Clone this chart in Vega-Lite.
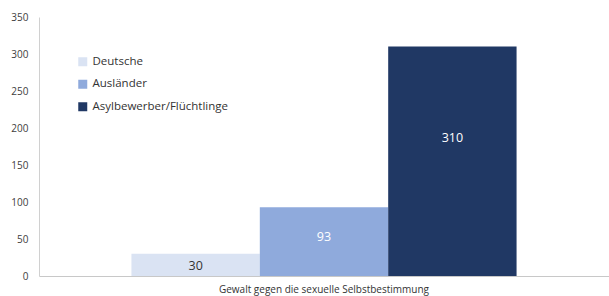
{
  "$schema": "https://vega.github.io/schema/vega-lite/v6.json",
  "width": 570,
  "height": 259,
  "autosize": {"type": "none"},
  "padding": {"left": 39, "top": 17, "right": 0, "bottom": 20},
  "background": "white",
  "config": {
    "view": {"stroke": null},
    "font": "Open Sans"
  },
  "data": {
    "values": [
      {"kategorie": "Gewalt gegen die sexuelle Selbstbestimmung", "gruppe": "Deutsche", "wert": 30},
      {"kategorie": "Gewalt gegen die sexuelle Selbstbestimmung", "gruppe": "Ausländer", "wert": 93},
      {"kategorie": "Gewalt gegen die sexuelle Selbstbestimmung", "gruppe": "Asylbewerber/Flüchtlinge", "wert": 310}
    ]
  },
  "encoding": {
    "x": {
      "field": "kategorie", "type": "nominal",
      "scale": {"paddingInner": 0, "paddingOuter": 0.24},
      "axis": {
        "title": null, "labelAngle": 0, "ticks": false, "labelPadding": 8,
        "labelFontSize": 10, "labelColor": "#333333", "domainColor": "#c8c8c8",
        "labelFont": "Open Sans", "labelLimit": 0
      }
    },
    "xOffset": {
      "field": "gruppe", "type": "nominal",
      "scale": {"domain": ["Deutsche", "Ausländer", "Asylbewerber/Flüchtlinge"], "paddingInner": 0, "paddingOuter": 0}
    }
  },
  "layer": [
    {
      "mark": {"type": "bar"},
      "encoding": {
        "y": {
          "field": "wert", "type": "quantitative",
          "scale": {"domain": [0, 350]},
          "axis": {
            "title": null, "values": [0, 50, 100, 150, 200, 250, 300, 350],
            "grid": false, "ticks": false, "labelPadding": 11,
            "labelFontSize": 10, "labelColor": "#404040", "domainColor": "#d0d0d0",
            "labelFont": "Open Sans"
          }
        },
        "color": {
          "field": "gruppe", "type": "nominal",
          "scale": {
            "domain": ["Deutsche", "Ausländer", "Asylbewerber/Flüchtlinge"],
            "range": ["#DAE3F3", "#8FAADC", "#203864"]
          },
          "legend": {
            "title": null, "orient": "none", "legendX": 38, "legendY": 39,
            "symbolType": "square", "symbolSize": 81, "symbolStrokeWidth": 0,
            "labelFontSize": 11.5, "labelColor": "#333333", "labelOffset": 4,
            "rowPadding": 9.5, "labelFont": "Open Sans"
          }
        }
      }
    },
    {
      "mark": {"type": "text", "fontSize": 12.5, "dy": 4, "font": "Open Sans"},
      "encoding": {
        "y": {
          "field": "wert", "type": "quantitative",
          "scale": {"domain": [0, 565]},
          "axis": null
        },
        "text": {"field": "wert", "type": "quantitative"},
        "color": {
          "condition": {"test": "datum.wert > 50", "value": "#ffffff"},
          "value": "#333333"
        }
      }
    }
  ],
  "resolve": {"scale": {"y": "independent", "color": "independent"}}
}
